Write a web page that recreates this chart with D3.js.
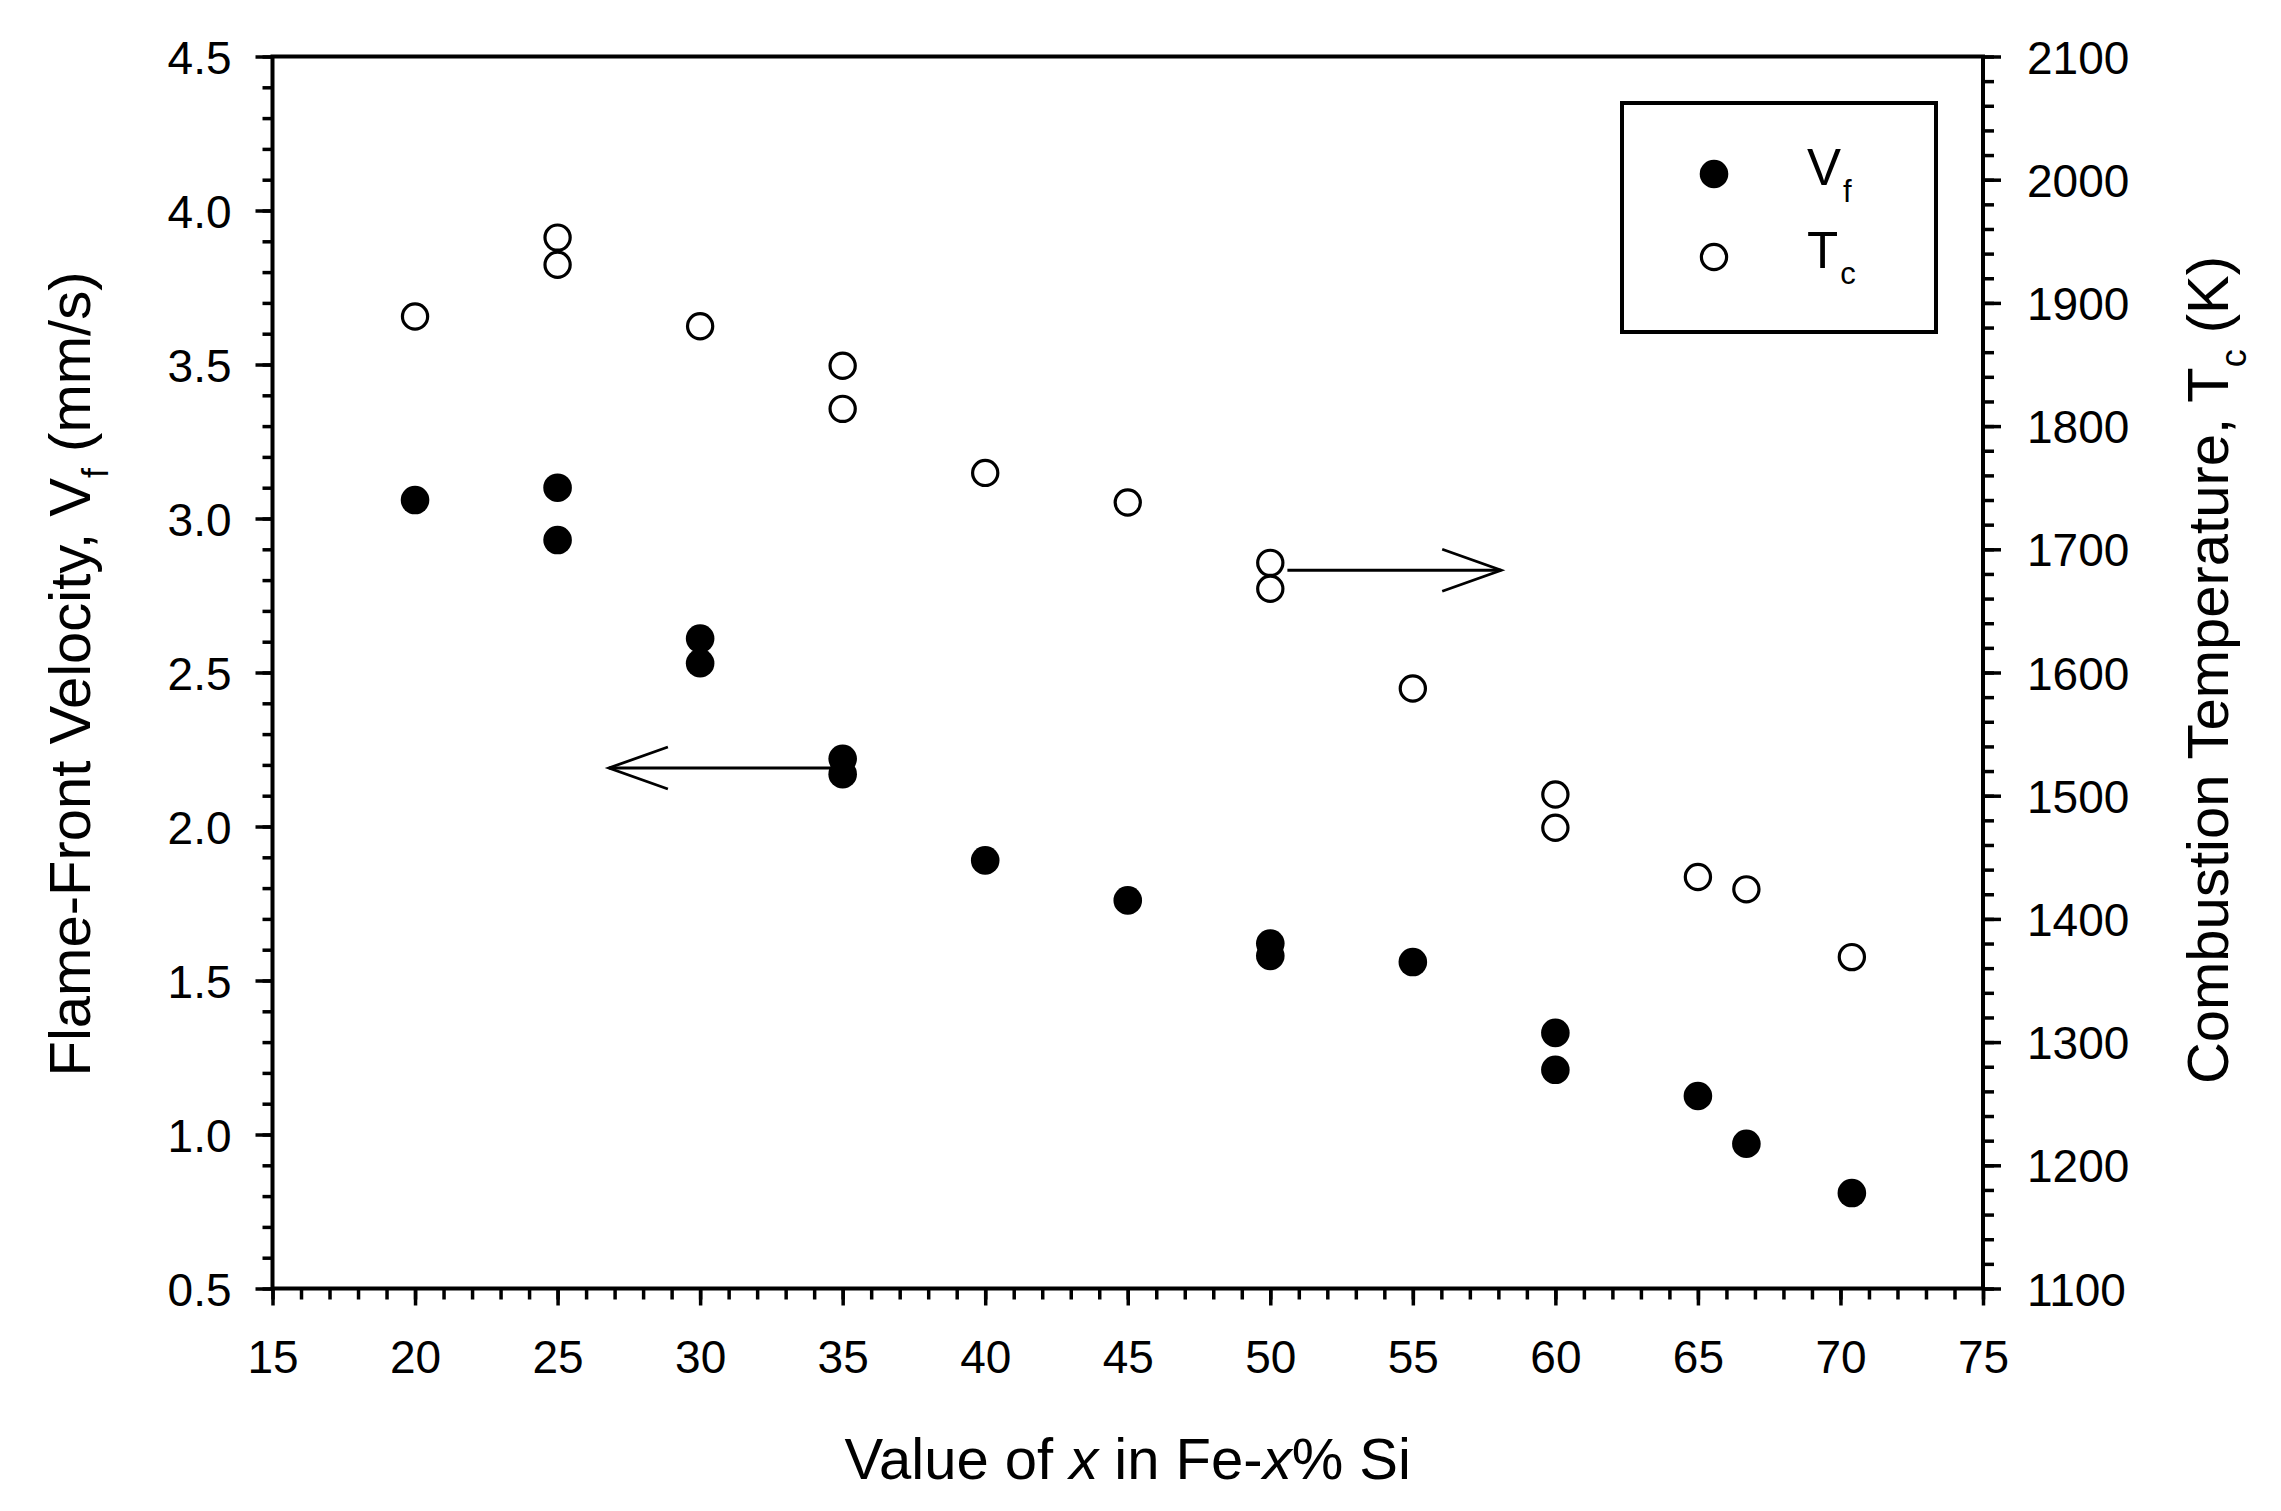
<!DOCTYPE html>
<html>
<head>
<meta charset="utf-8">
<script src="https://cdn.jsdelivr.net/npm/d3@7"></script>
<style>
  body { margin: 0; background: #fff; }
  svg { display: block; background: #fff; }
  text { font-family: "Liberation Sans", Arial, sans-serif; fill: #000; }
</style>
</head>
<body>
<svg id="chart" width="2281" height="1511"></svg>
<script>
// flame-front velocity Vf (mm/s), left axis
var xVf = [20, 25, 25, 30, 30, 35, 35, 40, 45, 50, 50, 55, 60, 60, 65, 66.7, 70.4];
var vf  = [3.06, 3.10, 2.93, 2.61, 2.53, 2.22, 2.17, 1.89, 1.76, 1.62, 1.58, 1.56, 1.33, 1.21, 1.125, 0.97, 0.81];

// combustion temperature Tc (K), right axis
var xTc = [20, 25, 25, 30, 35, 35, 40, 45, 50, 50, 55, 60, 60, 65, 66.7, 70.4];
var tc  = [1889, 1953, 1931, 1881, 1849, 1814, 1762, 1738, 1689, 1668, 1587, 1501, 1474, 1434, 1424, 1369];

var xTicks  = [15, 20, 25, 30, 35, 40, 45, 50, 55, 60, 65, 70, 75];
var vfTicks = [0.5, 1.0, 1.5, 2.0, 2.5, 3.0, 3.5, 4.0, 4.5];
var tcTicks = [1100, 1200, 1300, 1400, 1500, 1600, 1700, 1800, 1900, 2000, 2100];

// plot box (window.top is reserved, so no plain "top" here)
var plotL = 272.5, plotR = 1983, plotT = 56.5, plotB = 1288.5;

var svg = d3.select("#chart");

var x  = d3.scaleLinear().domain([15, 75]).range([plotL, plotR]);
var yV = d3.scaleLinear().domain([0.5, 4.5]).range([plotB, plotT]);
var yT = d3.scaleLinear().domain([1100, 2100]).range([plotB, plotT]);

function styleAxis(g, fs) {
  g.attr("font-size", fs).attr("font-family", null);
  g.select(".domain").remove();
  g.selectAll(".tick line").attr("stroke", "#000").attr("stroke-width", 3.5);
  g.selectAll(".tick text").attr("fill", "#000");
}

// minor ticks
var gxm = svg.append("g").attr("transform", "translate(0," + plotB + ")")
  .call(d3.axisBottom(x).tickValues(d3.range(15, 75.01, 1)).tickSize(11).tickFormat(""));
styleAxis(gxm, 46);
var gvm = svg.append("g").attr("transform", "translate(" + plotL + ",0)")
  .call(d3.axisLeft(yV).tickValues(d3.range(0.5, 4.501, 0.1)).tickSize(10).tickFormat(""));
styleAxis(gvm, 46);
var gtm = svg.append("g").attr("transform", "translate(" + plotR + ",0)")
  .call(d3.axisRight(yT).tickValues(d3.range(1100, 2100.1, 20)).tickSize(11).tickFormat(""));
styleAxis(gtm, 46);

// major ticks
var gx = svg.append("g").attr("transform", "translate(0," + plotB + ")")
  .call(d3.axisBottom(x).tickValues(xTicks).tickSize(17).tickPadding(35).tickFormat(d3.format("d")));
styleAxis(gx, 46);
var gv = svg.append("g").attr("transform", "translate(" + plotL + ",0)")
  .call(d3.axisLeft(yV).tickValues(vfTicks).tickSize(17).tickPadding(24).tickFormat(d3.format(".1f")));
styleAxis(gv, 46);
gv.selectAll(".tick text").attr("dy", "0.36em");
var gt = svg.append("g").attr("transform", "translate(" + plotR + ",0)")
  .call(d3.axisRight(yT).tickValues(tcTicks).tickSize(18).tickPadding(26).tickFormat(d3.format("d")));
styleAxis(gt, 46);
gt.selectAll(".tick text").attr("dy", "0.36em");

// frame
svg.append("rect")
  .attr("x", plotL).attr("y", plotT)
  .attr("width", plotR - plotL).attr("height", plotB - plotT)
  .attr("fill", "none").attr("stroke", "#000").attr("stroke-width", 4);

// arrows
function arrow(x1, x2, yy) {
  var dir = x2 < x1 ? 1 : -1;
  var tx = x(x2);
  svg.append("line")
    .attr("x1", x(x1)).attr("x2", tx).attr("y1", yy).attr("y2", yy)
    .attr("stroke", "#000").attr("stroke-width", 2.8);
  svg.append("polyline")
    .attr("points", [[tx + dir * 59, yy - 21], [tx, yy], [tx + dir * 59, yy + 21]].join(" "))
    .attr("fill", "none").attr("stroke", "#000").attr("stroke-width", 2.8);
}
arrow(35, 26.8, yV(2.19));
arrow(50.6, 58.1, yT(1683));

// data points
svg.append("g").selectAll("circle")
  .data(tc)
  .enter().append("circle")
  .attr("cx", (d, i) => x(xTc[i]))
  .attr("cy", d => yT(d))
  .attr("r", 12.6)
  .attr("fill", "none").attr("stroke", "#000").attr("stroke-width", 3.2);

svg.append("g").selectAll("circle")
  .data(vf)
  .enter().append("circle")
  .attr("cx", (d, i) => x(xVf[i]))
  .attr("cy", d => yV(d))
  .attr("r", 14.3)
  .attr("fill", "#000");

// axis titles
var xt = svg.append("text")
  .attr("x", (plotL + plotR) / 2).attr("y", 1479)
  .attr("text-anchor", "middle").attr("font-size", 58);
xt.append("tspan").text("Value of ");
xt.append("tspan").attr("font-style", "italic").text("x");
xt.append("tspan").text(" in Fe-");
xt.append("tspan").attr("font-style", "italic").text("x");
xt.append("tspan").text("% Si");

var lt = svg.append("text")
  .attr("transform", "translate(90,674) rotate(-90)")
  .attr("text-anchor", "middle").attr("font-size", 58);
lt.append("tspan").text("Flame-Front Velocity, V");
lt.append("tspan").attr("font-size", 36).attr("dy", 18).text("f");
lt.append("tspan").attr("dy", -18).text(" (mm/s)");

var rt = svg.append("text")
  .attr("transform", "translate(2228,670) rotate(-90)")
  .attr("text-anchor", "middle").attr("font-size", 58);
rt.append("tspan").text("Combustion Temperature, T");
rt.append("tspan").attr("font-size", 36).attr("dy", 18).text("c");
rt.append("tspan").attr("dy", -18).text(" (K)");

// legend
var lg = svg.append("g");
lg.append("rect")
  .attr("x", 1622).attr("y", 103).attr("width", 314).attr("height", 229)
  .attr("fill", "#fff").attr("stroke", "#000").attr("stroke-width", 4);
lg.append("circle").attr("cx", 1714).attr("cy", 174).attr("r", 14.3).attr("fill", "#000");
lg.append("circle").attr("cx", 1714).attr("cy", 257).attr("r", 12.6)
  .attr("fill", "none").attr("stroke", "#000").attr("stroke-width", 3.2);
var l1 = lg.append("text").attr("x", 1807).attr("y", 185).attr("font-size", 51);
l1.append("tspan").text("V");
l1.append("tspan").attr("font-size", 31).attr("dy", 17).attr("dx", 2).text("f");
var l2 = lg.append("text").attr("x", 1807).attr("y", 268).attr("font-size", 51);
l2.append("tspan").text("T");
l2.append("tspan").attr("font-size", 31).attr("dy", 16).attr("dx", 2).text("c");
</script>
</body>
</html>
